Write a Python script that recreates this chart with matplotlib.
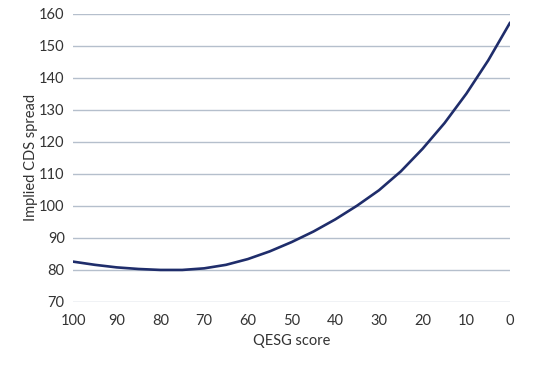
import numpy as np
import matplotlib
matplotlib.use("Agg")
import matplotlib.pyplot as plt

plt.rcParams['font.family'] = ['Lato', 'DejaVu Sans']

# QESG score vs implied CDS spread
qesg = [100, 95, 90, 85, 80, 75, 70, 65, 60, 55, 50, 45, 40, 35, 30, 25, 20, 15, 10, 5, 0]
spread = [82.6, 81.6, 80.8, 80.3, 80.0, 80.0, 80.5, 81.6, 83.4, 85.8, 88.7, 92.0, 95.8,
          100.1, 104.9, 110.8, 117.9, 125.9, 135.1, 145.5, 157.3]
xticks = [100, 90, 80, 70, 60, 50, 40, 30, 20, 10, 0]
yticks = [70, 80, 90, 100, 110, 120, 130, 140, 150, 160]

fig = plt.figure(figsize=(5.45, 3.66), dpi=100)
ax = fig.add_axes([0.134, 0.175, 0.802, 0.787])

# light horizontal gridlines
for yv in yticks:
    ax.axhline(yv, color='#b5bfcc', lw=1.0, zorder=1)

ax.plot(qesg, spread, color='#1f2d6b', lw=1.9, zorder=3,
        solid_capstyle='round', solid_joinstyle='round')

ax.set_xlim(100, 0)
ax.set_ylim(70, 160)
ax.set_xticks(xticks)
ax.set_yticks(yticks)
for s in ax.spines.values():
    s.set_visible(False)
ax.tick_params(axis='both', length=0, labelsize=10.5, colors='#333333')
ax.tick_params(axis='x', pad=9)
ax.tick_params(axis='y', pad=6)

ax.set_xlabel('QESG score', fontsize=10.5, color='#333333', labelpad=4)
ax.set_ylabel('Implied CDS spread', fontsize=10.5, color='#333333', labelpad=1)

fig.savefig('out.png', dpi=100)
